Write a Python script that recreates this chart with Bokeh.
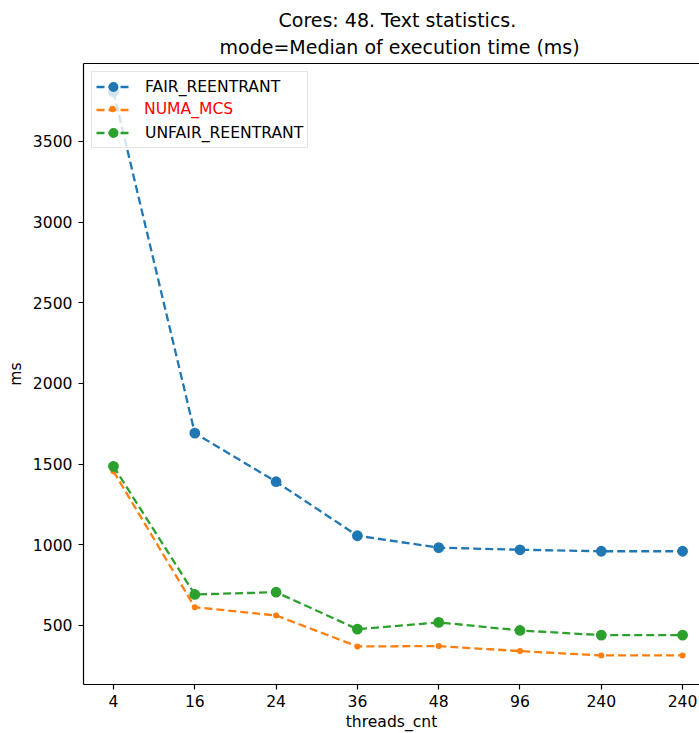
from bokeh.plotting import figure
from bokeh.models import (Range1d, FixedTicker, LinearAxis, Legend, LegendItem,
                          Title, ColumnDataSource)
from bokeh.embed import file_html
from bokeh.resources import INLINE

# ---- data ----
x_labels = ["4", "16", "24", "36", "48", "96", "240", "240"]
fair_reentrant = [3808, 1692, 1391, 1056, 982, 969, 960, 960]
numa_mcs = [1455, 613, 562, 370, 372, 341, 314, 314]
unfair_reentrant = [1486, 692, 706, 477, 519, 469, 440, 440]
y_ticks = [500, 1000, 1500, 2000, 2500, 3000, 3500]

title_line1 = "Cores: 48. Text statistics."
title_line2 = "mode=Median of execution time (ms)"
x_label = "threads_cnt"
y_label = "ms"

positions = list(range(len(x_labels)))

FONT = "DejaVu Sans"
FS = "15.6px"
TFS = "19px"

p = figure(width=699, height=733, output_backend="svg", toolbar_location=None,
           x_range=Range1d(-0.369, 7.208), y_range=Range1d(134, 3983),
           min_border_left=83, min_border_right=0, min_border_top=63,
           min_border_bottom=49)
p.outline_line_color = None
p.xgrid.visible = False
p.ygrid.visible = False
p.background_fill_color = "white"
p.border_fill_color = "white"


def style_axis(ax):
    ax.axis_line_color = "black"
    ax.axis_line_width = 1.2
    ax.major_tick_line_color = "black"
    ax.major_tick_line_width = 1.2
    ax.major_tick_out = 5
    ax.major_tick_in = 0
    ax.minor_tick_out = 0
    ax.minor_tick_in = 0
    ax.minor_tick_line_color = None
    ax.major_label_text_font = FONT
    ax.major_label_text_font_size = FS
    ax.major_label_text_color = "black"
    ax.axis_label_text_font = FONT
    ax.axis_label_text_font_size = FS
    ax.axis_label_text_font_style = "normal"
    ax.axis_label_text_color = "black"


xa = p.xaxis[0]
style_axis(xa)
xa.ticker = FixedTicker(ticks=positions)
xa.major_label_overrides = {i: lab for i, lab in enumerate(x_labels)}
xa.axis_label = x_label
xa.major_label_standoff = 5
xa.axis_label_standoff = 3

ya = p.yaxis[0]
style_axis(ya)
ya.ticker = FixedTicker(ticks=y_ticks)
ya.axis_label = y_label
ya.major_label_standoff = 6
ya.axis_label_standoff = 5

# top spine
top = LinearAxis(ticker=FixedTicker(ticks=[]), major_tick_out=0, major_tick_in=0,
                 minor_tick_out=0, minor_tick_in=0, major_label_text_font_size="0px",
                 major_tick_line_color=None, minor_tick_line_color=None,
                 major_label_standoff=0, axis_line_width=1.2, axis_line_color="black")
p.add_layout(top, "above")

p.add_layout(Title(text=title_line2, align="left", offset=136, text_font=FONT,
                   text_font_size=TFS, text_font_style="normal",
                   text_color="black", standoff=12), "above")
p.add_layout(Title(text=title_line1, align="left", offset=195, text_font=FONT,
                   text_font_size=TFS, text_font_style="normal",
                   text_color="black", standoff=-7), "above")


def series(vals, color, marker_size):
    src = ColumnDataSource(dict(x=positions, y=vals))
    ln = p.line("x", "y", source=src, line_color=color, line_width=2.3, line_dash="8 4")
    sc = p.scatter("x", "y", source=src, size=marker_size, fill_color=color,
                   line_color=color, line_width=1.5)
    return [ln, sc]


fair_r = series(fair_reentrant, "#1f77b4", 9.3)
numa_r = series(numa_mcs, "#ff7f0e", 4.6)
unfair_r = series(unfair_reentrant, "#2ca02c", 9.3)

legA = Legend(items=[LegendItem(label="FAIR_REENTRANT", renderers=fair_r),
                     LegendItem(label=" ", renderers=[numa_r[0]]),
                     LegendItem(label="UNFAIR_REENTRANT", renderers=unfair_r)],
              location="top_left", margin=8, padding=4, spacing=2, glyph_width=34,
              glyph_height=21, label_height=21, label_standoff=15,
              label_text_font=FONT, label_text_font_size=FS,
              label_text_color="black", border_line_color="#cccccc",
              border_line_width=1.2, background_fill_color="white",
              background_fill_alpha=0.8)
p.add_layout(legA, "center")

# second-row overlay: small marker + red label (frame height 621, row bottom 56 px below top)
legB = Legend(items=[LegendItem(label="NUMA_MCS", renderers=[numa_r[1]])],
              location=(23, 565), margin=0, padding=0, spacing=0, glyph_width=12,
              glyph_height=21, label_height=21, label_standoff=26,
              label_text_font=FONT, label_text_font_size=FS,
              label_text_color="red", border_line_alpha=0,
              background_fill_alpha=0)
p.add_layout(legB, "center")

open("out.html", "w").write(file_html(p, INLINE))
